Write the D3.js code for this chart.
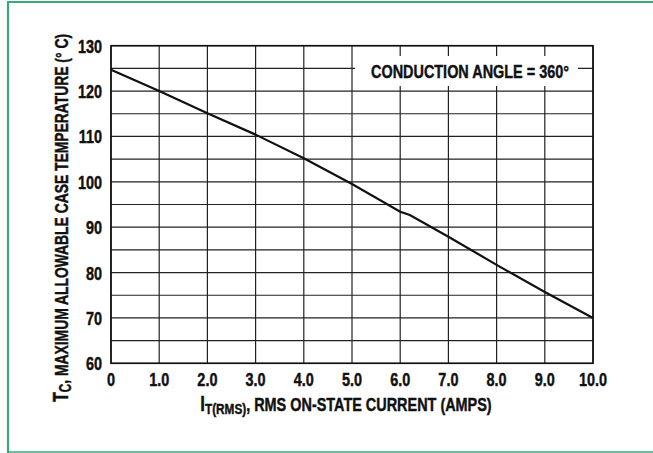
<!DOCTYPE html>
<html lang="en">
<head>
    <meta charset="UTF-8">
    <title>Case Temperature Derating</title>
    <style>
        body { margin: 0; background: #fff; }
        text {
            font-family: "Liberation Sans", Arial, sans-serif;
            font-weight: bold;
            fill: #111;
            stroke: #111;
            stroke-width: 0.45;
        }
        .grid line { stroke: #222; stroke-width: 1.2; }
        .curve { fill: none; stroke: #111; stroke-width: 2.2; }
    </style>
</head>
<body>
    <svg id="container" width="653" height="453">
        <g id="body"></g>
    </svg>

<script src="https://cdn.jsdelivr.net/npm/d3@7"></script>
<script>

    // data
    let current = [0, 1, 2, 3, 4, 5, 6, 6.2, 7, 8, 9, 10]
    let caseTemp = [124.7, 120, 115.1, 110.4, 105.2, 99.5, 93.4, 92.7, 87.9, 81.7, 75.7, 70]
    let xTicks = [0, 1, 2, 3, 4, 5, 6, 7, 8, 9, 10]
    let yTicks = [60, 70, 80, 90, 100, 110, 120, 130]
    let yGrid = [65, 75, 85, 95, 105, 115, 125]
    let annotation = "CONDUCTION ANGLE = 360°"

    let svg = d3.select("#container")
    let body = d3.select("#body")

    // condensed look: no narrow font installed, so squeeze horizontally
    let squeeze = 0.76

    // green frame
    svg.append("path")
        .attr("d", "M8,455 L8,2 L660,2")
        .attr("fill", "none")
        .attr("stroke", "#3aa878")
        .attr("stroke-width", 2.2)
    svg.append("line")
        .attr("x1", 8).attr("x2", 660)
        .attr("y1", 452).attr("y2", 452)
        .attr("stroke", "#3aa878")
        .attr("stroke-width", 1.5)

    let plotLeft = 111, plotRight = 593, plotTop = 45.7, plotBottom = 363.3

    let xScale = d3.scaleLinear()
        .domain([0, 10])
        .range([plotLeft, plotRight])

    let yScale = d3.scaleLinear()
        .domain([60, 130])
        .range([plotBottom, plotTop])

    let grid = body.append("g").attr("class", "grid")

    grid.selectAll(".v")
        .data(xTicks)
        .join("line")
        .attr("x1", d => xScale(d)).attr("x2", d => xScale(d))
        .attr("y1", plotTop).attr("y2", plotBottom)

    grid.selectAll(".h")
        .data(yTicks.concat(yGrid))
        .join("line")
        .attr("x1", plotLeft).attr("x2", plotRight)
        .attr("y1", d => yScale(d)).attr("y2", d => yScale(d))

    // frame of plot slightly heavier
    body.append("rect")
        .attr("x", plotLeft).attr("y", plotTop)
        .attr("width", plotRight - plotLeft).attr("height", plotBottom - plotTop)
        .attr("fill", "none")
        .attr("stroke", "#111")
        .attr("stroke-width", 1.6)

    // annotation with white box over grid
    body.append("rect")
        .attr("x", 355).attr("y", 56)
        .attr("width", 223).attr("height", 30)
        .attr("fill", "#fff")

    body.append("text")
        .attr("transform", "translate(470,78) scale(" + squeeze + ",1)")
        .attr("text-anchor", "middle")
        .style("font-size", "19px")
        .text(annotation)

    let valueLine = d3.line()
        .x((d, i) => xScale(current[i]))
        .y(d => yScale(d))

    body.append("path")
        .datum(caseTemp)
        .attr("d", valueLine)
        .attr("class", "curve")

    // tick labels
    body.selectAll(".xl")
        .data(xTicks)
        .join("text")
        .attr("transform", d => "translate(" + xScale(d) + ",386) scale(" + squeeze + ",1)")
        .attr("text-anchor", "middle")
        .style("font-size", "19px")
        .text(d => d == 0 ? "0" : d.toFixed(1))

    body.selectAll(".yl")
        .data(yTicks)
        .join("text")
        .attr("transform", d => "translate(102," + (yScale(d) + 7) + ") scale(" + squeeze + ",1)")
        .attr("text-anchor", "end")
        .style("font-size", "19px")
        .text(d => d)

    // x axis title
    let xt = body.append("text")
        .attr("transform", "translate(346,411) scale(" + squeeze + ",1)")
        .attr("text-anchor", "middle")
        .style("font-size", "19px")
    xt.append("tspan").text("I").style("font-size", "22px")
    xt.append("tspan").text("T(RMS)").attr("dy", 3).style("font-size", "15.5px")
    xt.append("tspan").text(", RMS ON-STATE CURRENT (AMPS)").attr("dy", -3)

    // y axis title
    let yt = body.append("text")
        .attr("transform", "translate(68,218) rotate(-90) scale(0.73,1)")
        .attr("text-anchor", "middle")
        .style("font-size", "19px")
    yt.append("tspan").text("T").style("font-size", "22px")
    yt.append("tspan").text("C").attr("dy", 3).style("font-size", "16px")
    yt.append("tspan").text(", MAXIMUM ALLOWABLE CASE TEMPERATURE (° C)").attr("dy", -3)

</script>
</body>
</html>
